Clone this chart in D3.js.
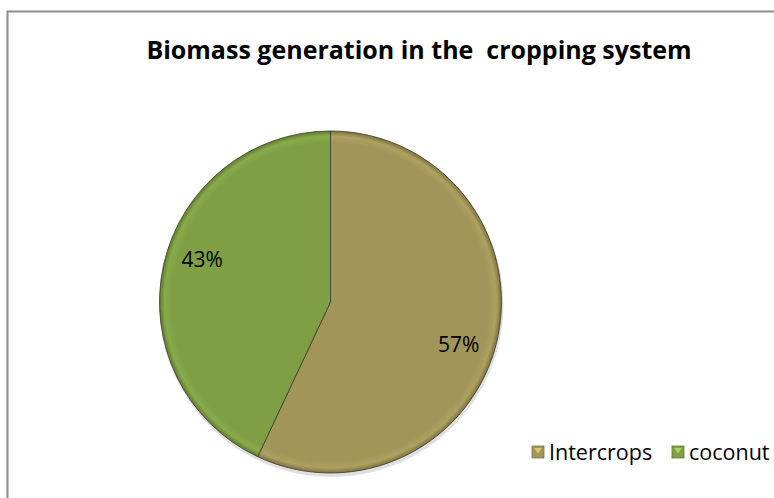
<!DOCTYPE html>
<html>
<head>
<meta charset="utf-8">
<script src="https://cdn.jsdelivr.net/npm/d3@7.9.0/dist/d3.min.js"></script>
<style>
  body { margin: 0; background: #fff; }
  svg { display: block; font-family: "Open Sans", "Noto Sans", sans-serif; }
</style>
</head>
<body>
<svg width="774" height="498"></svg>
<script>
const categories = ['Intercrops', 'coconut'];
const values = [57, 43];
const colors = ['#a19559', '#7f9f45'];
const edgeColors = ['#7d7340', '#5f7a2f'];

const svg = d3.select('svg');

// chart border
svg.append('rect')
  .attr('x', 7.5).attr('y', 11.5)
  .attr('width', 780).attr('height', 500)
  .attr('fill', '#fff')
  .attr('stroke', '#8c8c8c')
  .attr('stroke-width', 2);

svg.append('text')
  .attr('x', 419).attr('y', 59)
  .attr('text-anchor', 'middle')
  .attr('font-weight', 'bold')
  .attr('font-size', 25)
  .attr('fill', '#000')
  .attr('xml:space', 'preserve')
  .text('Biomass generation in the  cropping system');

const cx = 330.5, cy = 302, r = 171;

// soft bevel gradients (coords relative to the pie group)
const defs = svg.append('defs');
colors.forEach((c, i) => {
  let g = defs.append('radialGradient').attr('id', 'g' + i)
    .attr('gradientUnits', 'userSpaceOnUse')
    .attr('cx', 0).attr('cy', 0).attr('r', r);
  g.append('stop').attr('offset', '0%').attr('stop-color', c);
  g.append('stop').attr('offset', '93%').attr('stop-color', c);
  g.append('stop').attr('offset', '97%').attr('stop-color', d3.color(c).brighter(0.2));
  g.append('stop').attr('offset', '100%').attr('stop-color', edgeColors[i]);
});

const data = categories.map((label, i) => ({ label, value: values[i] }));
let pie = d3.pie().sort(null).value((d) => d.value);
let arcGenerator = d3.arc().innerRadius(0).outerRadius(r);
let arcData = pie(data);

const g = svg.append('g').attr('transform', `translate(${cx},${cy})`);

// shadow
g.append('circle').attr('cx', 1).attr('cy', 3).attr('r', r + 1)
  .attr('fill', '#000').attr('opacity', 0.12);

g.selectAll('path.slice')
  .data(arcData)
  .join('path')
  .attr('class', 'slice')
  .attr('d', arcGenerator)
  .attr('fill', (d, i) => `url(#g${i})`)
  .attr('stroke', '#3a3a2a')
  .attr('stroke-width', 0.8);

// percentage labels, placed a little clockwise of the slice middle
const total = d3.sum(values);
const labelR = r * 0.79;
g.selectAll('text.pct')
  .data(arcData)
  .join('text')
  .attr('class', 'pct')
  .attr('transform', (d) => {
    let a = (d.startAngle + d.endAngle) / 2 + 0.1;
    return `translate(${labelR * Math.sin(a)},${-labelR * Math.cos(a)})`;
  })
  .attr('text-anchor', 'middle')
  .attr('dy', '0.36em')
  .attr('font-size', 21)
  .attr('fill', '#000')
  .text((d) => Math.round(d.data.value / total * 100) + '%');

// legend
const legendX = [532, 672];
const legend = svg.append('g');
data.forEach((d, i) => {
  let item = legend.append('g').attr('transform', `translate(${legendX[i]},446)`);
  item.append('rect').attr('width', 12).attr('height', 12)
    .attr('fill', colors[i]).attr('stroke', edgeColors[i]).attr('stroke-width', 0.8);
  item.append('path').attr('d', 'M2,2 L10,2 L6,7.5 Z')
    .attr('fill', d3.color(colors[i]).brighter(0.8));
  item.append('text').attr('x', 17).attr('y', 13.5)
    .attr('font-size', 21.5).attr('fill', '#000')
    .text(d.label);
});
</script>
</body>
</html>
